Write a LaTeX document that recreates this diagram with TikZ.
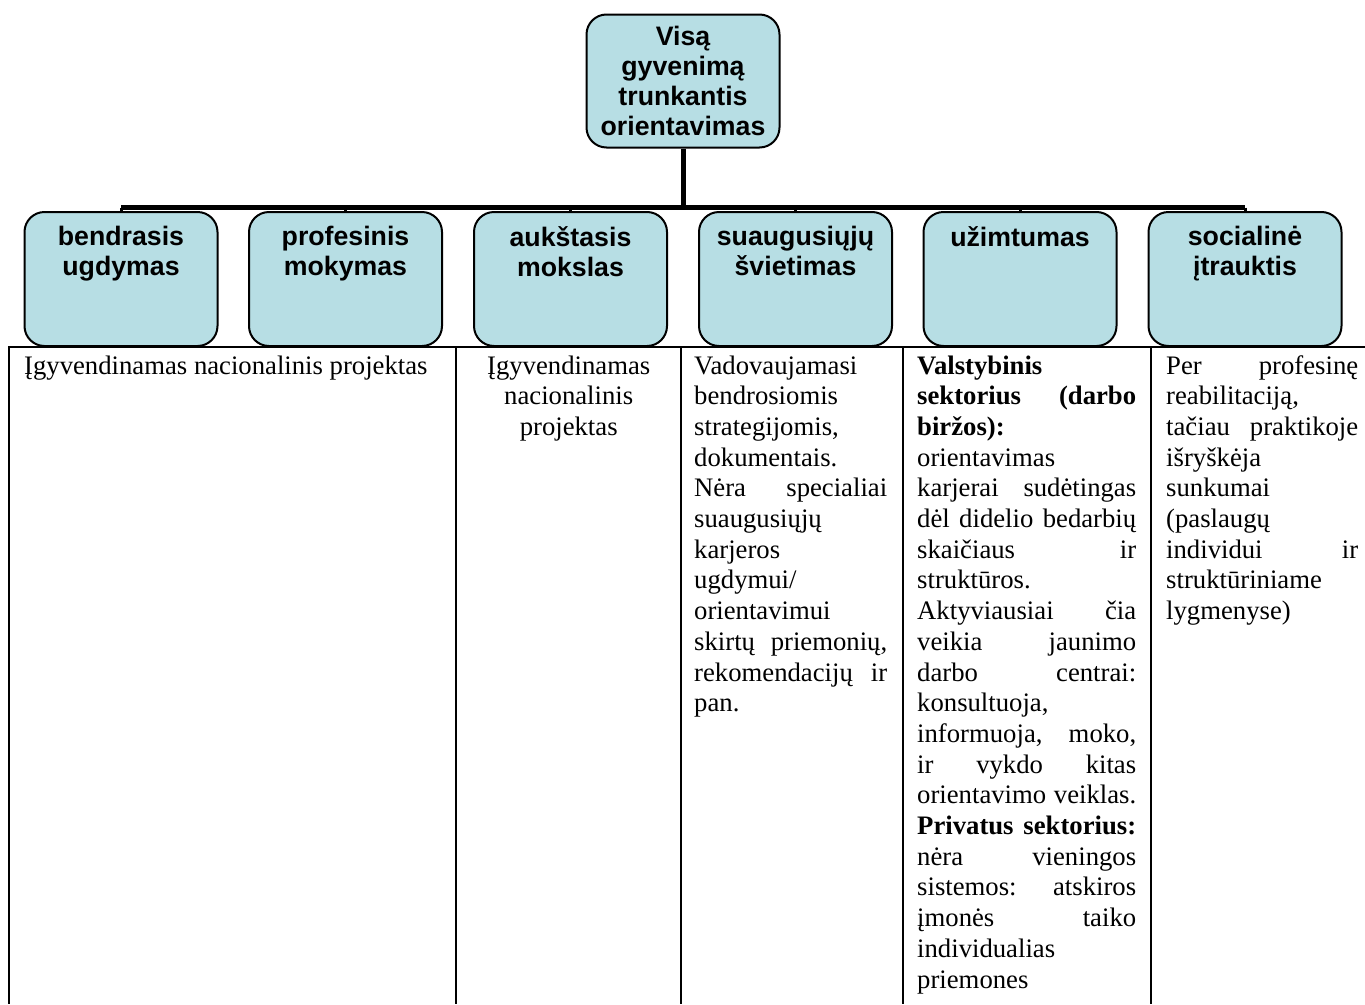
\documentclass[tikz,border=0pt]{standalone}
\usepackage{fontspec}
\setmainfont{Liberation Serif}
\setsansfont{Liberation Sans}
\definecolor{boxfill}{RGB}{183,222,228}
% one justified line of a table cell
\newcommand\jl[1]{\makebox[\linewidth][s]{#1}}
\tikzset{
  catbox/.style={draw, line width=2pt, fill=boxfill, rounded corners=20pt,
    minimum width=193pt, minimum height=134pt, inner sep=0pt},
  boxtext/.style={anchor=north, align=center, inner sep=0pt,
    font=\sffamily\bfseries\fontsize{26.7}{30}\selectfont},
  bar/.style={line width=5pt},
  stub/.style={line width=3pt},
  tbl/.style={line width=2pt},
  cell/.style={anchor=base west, inner sep=0pt,
    font=\fontsize{26.7}{30.7}\selectfont}
}
\begin{document}
\begin{tikzpicture}[x=1pt,y=-1pt]
\useasboundingbox (0,0) rectangle (1365,1004);
% table underneath
\draw[tbl] (8,347) -- (1365,347);
\draw[tbl] (9,347) -- (9,1004);
\draw[tbl] (456,347) -- (456,1004);
\draw[tbl] (681,347) -- (681,1004);
\draw[tbl] (903,347) -- (903,1004);
\draw[tbl] (1151,347) -- (1151,1004);
% tree
\node[catbox, minimum height=133pt, boxtext, anchor=center] (root) at (683,81)
  {Visą\\gyvenimą\\trunkantis\\orientavimas};
\node[catbox] (bendr) at (121,279) {};
\node[catbox] (prof) at (345.5,279) {};
\node[catbox] (auk) at (570.5,279) {};
\node[catbox] (suaug) at (795.5,279) {};
\node[catbox] (uzimt) at (1020,279) {};
\node[catbox] (socia) at (1245,279) {};
\node[boxtext] at ([yshift=-15pt]bendr.north) {bendrasis\\ugdymas};
\node[boxtext] at ([yshift=-15pt]prof.north) {profesinis\\mokymas};
\node[boxtext] at ([yshift=-15pt]auk.north) {aukštasis\\mokslas};
\node[boxtext] at ([yshift=-15pt]suaug.north) {suaugusiųjų\\švietimas};
\node[boxtext] at ([yshift=-15pt]uzimt.north) {užimtumas};
\node[boxtext] at ([yshift=-15pt]socia.north) {socialinė\\įtrauktis};
\coordinate (hub) at (683,207.5);
\draw[bar] (root.south) -- (hub);
\draw[bar] (bendr.north |- hub) -- (socia.north |- hub);
\foreach \b in {bendr,prof,auk,suaug,uzimt,socia}
  \draw[stub] (\b.north |- hub) -- (\b.north);
% table texts
\node[cell] (c1) at (24,374) {Įgyvendinamas nacionalinis projektas};
\node[cell, text width=225pt, align=center] (c2) at (456,374) {Įgyvendinamas\\nacionalinis\\projektas};
\node[cell] (c3) at (694,374) {\parbox[t]{193pt}{Vadovaujamasi\\bendrosiomis\\strategijomis,\\dokumentais.\\
  \jl{Nėra\hfill specialiai}\\suaugusiųjų\\karjeros\\ugdymui/\\orientavimui\\
  \jl{skirtų\hfill priemonių,}\\\jl{rekomendacijų\hfill ir}\\pan.}};
\node[cell] (c4) at (917,374) {\parbox[t]{219pt}{\textbf{Valstybinis}\\\jl{\textbf{sektorius\hfill (darbo}}\\\textbf{biržos):}\\
  orientavimas\\\jl{karjerai\hfill sudėtingas}\\\jl{dėl\hfill didelio\hfill bedarbių}\\\jl{skaičiaus\hfill ir}\\struktūros.\\
  \jl{Aktyviausiai\hfill čia}\\\jl{veikia\hfill jaunimo}\\\jl{darbo\hfill centrai:}\\konsultuoja,\\
  \jl{informuoja,\hfill moko,}\\\jl{ir\hfill vykdo\hfill kitas}\\\jl{orientavimo\hfill veiklas.}\\
  \jl{\textbf{Privatus\hfill sektorius:}}\\\jl{nėra\hfill vieningos}\\\jl{sistemos:\hfill atskiros}\\
  \jl{įmonės\hfill taiko}\\individualias\\priemones}};
\node[cell] (c5) at (1166,374) {\parbox[t]{192pt}{\jl{Per\hfill profesinę}\\reabilitaciją,\\\jl{tačiau\hfill praktikoje}\\
  išryškėja\\sunkumai\\(paslaugų\\\jl{individui\hfill ir}\\struktūriniame\\lygmenyse)}};
\end{tikzpicture}
\end{document}
